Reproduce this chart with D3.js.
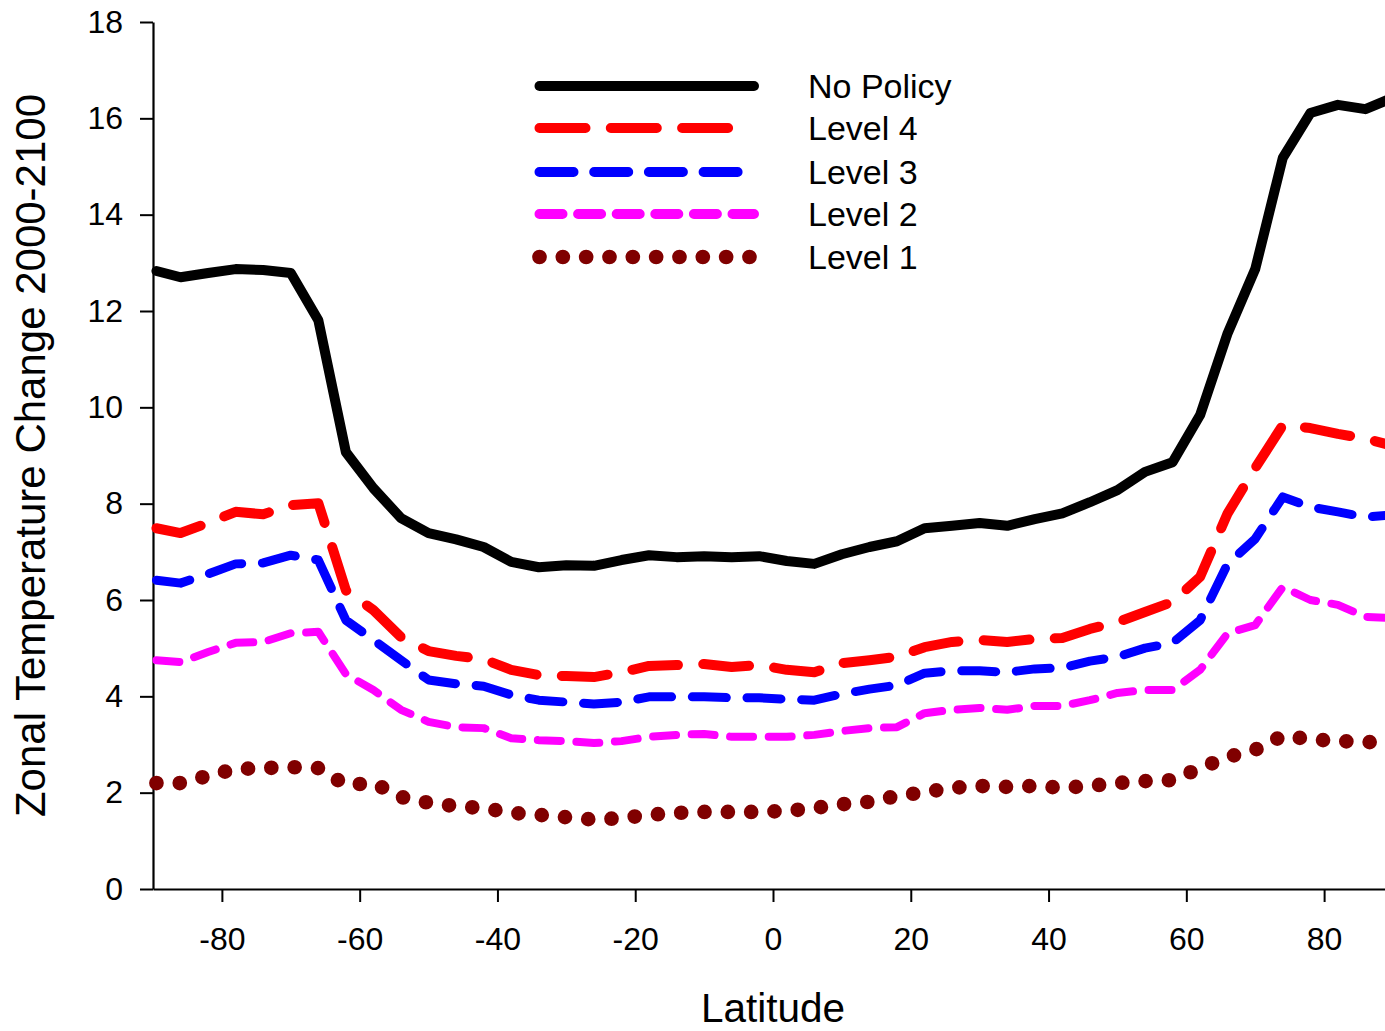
<!DOCTYPE html>
<html>
<head>
<meta charset="utf-8">
<script src="https://cdn.jsdelivr.net/npm/d3@7"></script>
<style>
  html, body { margin: 0; padding: 0; background: #fff; overflow: hidden; }
  svg { display: block; font-family: "Liberation Sans", Arial, sans-serif; }
</style>
</head>
<body>
<svg id="chart" width="1385" height="1031"></svg>
<script>
// latitude of each zonal band
const lats = [-89.5, -86, -82, -78, -74, -70, -66, -62, -58, -54, -50, -46, -42, -38, -34, -30,
  -26, -22, -18, -14, -10, -6, -2, 2, 6, 10, 14, 18, 22, 26, 30, 34, 38, 42, 46, 50, 54, 58,
  62, 66, 70, 74, 78, 82, 86, 89.5];

const noPolicy = [12.83, 12.70, 12.79, 12.87, 12.85, 12.79, 11.81, 9.07, 8.32, 7.70, 7.39, 7.26,
  7.10, 6.79, 6.68, 6.72, 6.71, 6.83, 6.93, 6.89, 6.91, 6.89, 6.91, 6.81, 6.75, 6.95, 7.10, 7.22,
  7.49, 7.54, 7.60, 7.54, 7.68, 7.80, 8.03, 8.28, 8.66, 8.86, 9.84, 11.54, 12.87, 15.18, 16.11,
  16.28, 16.19, 16.40];
const level4 = [7.49, 7.39, 7.60, 7.83, 7.78, 7.97, 8.01, 6.20, 5.79, 5.23, 4.94, 4.84, 4.77,
  4.55, 4.44, 4.42, 4.40, 4.50, 4.63, 4.65, 4.67, 4.61, 4.65, 4.55, 4.50, 4.69, 4.75, 4.82, 5.02,
  5.13, 5.17, 5.13, 5.19, 5.21, 5.40, 5.54, 5.75, 5.96, 6.48, 7.80, 8.74, 9.63, 9.57, 9.45, 9.35,
  9.22];
const level3 = [6.41, 6.35, 6.54, 6.75, 6.77, 6.93, 6.83, 5.58, 5.17, 4.75, 4.34, 4.26, 4.21,
  4.03, 3.92, 3.88, 3.84, 3.88, 3.99, 3.99, 3.99, 3.97, 3.97, 3.94, 3.92, 4.05, 4.15, 4.23, 4.48,
  4.53, 4.53, 4.50, 4.57, 4.59, 4.73, 4.82, 5.00, 5.11, 5.58, 6.75, 7.27, 8.14, 7.93, 7.83, 7.72,
  7.76];
const level2 = [4.75, 4.71, 4.92, 5.11, 5.13, 5.31, 5.34, 4.46, 4.13, 3.72, 3.47, 3.36, 3.34,
  3.13, 3.09, 3.07, 3.03, 3.07, 3.16, 3.20, 3.22, 3.16, 3.16, 3.16, 3.20, 3.28, 3.34, 3.36, 3.65,
  3.72, 3.76, 3.72, 3.80, 3.80, 3.92, 4.07, 4.13, 4.13, 4.55, 5.31, 5.48, 6.27, 6.00, 5.90, 5.65,
  5.63];
const level1 = [2.20, 2.20, 2.35, 2.49, 2.51, 2.53, 2.51, 2.16, 2.20, 1.91, 1.79, 1.72, 1.68,
  1.58, 1.54, 1.49, 1.44, 1.47, 1.54, 1.58, 1.60, 1.60, 1.60, 1.62, 1.68, 1.76, 1.81, 1.93, 2.01,
  2.10, 2.14, 2.12, 2.14, 2.10, 2.14, 2.20, 2.24, 2.26, 2.51, 2.74, 2.89, 3.18, 3.11, 3.07, 3.05,
  3.05];

const seriesNames = ["No Policy", "Level 4", "Level 3", "Level 2", "Level 1"];
const xTicks = [-80, -60, -40, -20, 0, 20, 40, 60, 80];
const yTicks = [0, 2, 4, 6, 8, 10, 12, 14, 16, 18];

// line styles, same order as seriesNames
const styles = [
  { values: noPolicy, color: "#000000", width: 10, dash: null, legendEnd: 754 },
  { values: level4, color: "#ff0000", width: 10, dash: "46,25.3", legendEnd: 740 },
  { values: level3, color: "#0000ff", width: 9, dash: "34,20.7", legendEnd: 740 },
  { values: level2, color: "#ff00ff", width: 8, dash: "23,15.6", legendEnd: 754 },
  { values: level1, color: "#800000", width: 14.7, dash: "0,23.33", legendEnd: 750 }
];

const svg = d3.select("#chart");
const margin = { top: 22, left: 153 };
const plotBottom = 889;

const x = d3.scaleLinear().domain([-90, 90]).range([153, 1393]);
const y = d3.scaleLinear().domain([0, 18]).range([plotBottom, margin.top]);

// axes
const xAxis = svg.append("g")
  .attr("transform", `translate(0,${plotBottom})`)
  .call(d3.axisBottom(x).tickValues(xTicks).tickSize(13).tickSizeOuter(0).tickPadding(25)
    .tickFormat(d3.format("d")));

const yAxis = svg.append("g")
  .attr("transform", `translate(${margin.left},0)`)
  .call(d3.axisLeft(y).tickValues(yTicks).tickSize(13).tickSizeOuter(0).tickPadding(17));

[xAxis, yAxis].forEach(g => {
  g.select(".domain").attr("stroke", "#000").attr("stroke-width", 2.2);
  g.selectAll(".tick line").attr("stroke", "#000").attr("stroke-width", 2);
  g.selectAll(".tick text")
    .attr("fill", "#000")
    .style("font-size", "32px")
    .style("font-family", "'Liberation Sans', Arial, sans-serif");
});
// D3 uses a unicode minus; the original shows a plain hyphen
xAxis.selectAll(".tick text").text(d => String(d));

// axis titles
svg.append("text")
  .attr("x", x(0))
  .attr("y", 1022)
  .attr("text-anchor", "middle")
  .style("font-size", "40.5px")
  .text("Latitude");

svg.append("text")
  .attr("transform", `translate(45,${(margin.top + plotBottom) / 2}) rotate(-90)`)
  .attr("text-anchor", "middle")
  .style("font-size", "42px")
  .text("Zonal Temperature Change 2000-2100");

// series lines
const line = d3.line()
  .x((d, i) => x(lats[i]))
  .y(d => y(d));

// draw bottom series first so No Policy ends on top
styles.slice().reverse().forEach(s => {
  svg.append("path")
    .datum(s.values)
    .attr("fill", "none")
    .attr("stroke", s.color)
    .attr("stroke-width", s.width)
    .attr("stroke-linecap", "round")
    .attr("stroke-linejoin", "round")
    .attr("stroke-dasharray", s.dash)
    .attr("d", line);
});

// legend
const legend = svg.append("g");
const legendY = [86, 128, 172, 214, 257];
styles.forEach((s, i) => {
  legend.append("line")
    .attr("x1", 539.5)
    .attr("x2", s.legendEnd)
    .attr("y1", legendY[i])
    .attr("y2", legendY[i])
    .attr("stroke", s.color)
    .attr("stroke-width", s.width === 14.7 ? 14.7 : Math.max(s.width, 10))
    .attr("stroke-linecap", "round")
    .attr("stroke-dasharray", s.dash);
  legend.append("text")
    .attr("x", 808)
    .attr("y", legendY[i] + 11.5)
    .style("font-size", "34px")
    .text(seriesNames[i]);
});
</script>
</body>
</html>
